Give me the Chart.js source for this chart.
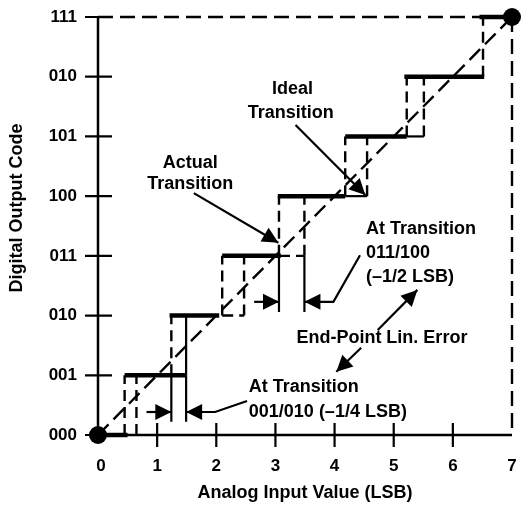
<!DOCTYPE html>
<html>
<head>
<meta charset="utf-8">
<title>End-Point Linearity Error</title>
<script src="https://cdn.jsdelivr.net/npm/chart.js@4.4.1/dist/chart.umd.min.js"></script>
<style>
  html, body { margin: 0; padding: 0; background: #fff; }
  #wrap { width: 521px; height: 507px; position: relative; }
</style>
</head>
<body>
<div id="wrap"><canvas id="chart"></canvas></div>
<script>
// ── Values ────────────────────────────────────────────────────────────────────
const inputTicks = [0, 1, 2, 3, 4, 5, 6, 7];
const codeLabels = ["000", "001", "010", "011", "100", "101", "010", "111"];

// transition k -> k+1 (LSB)
const actualTransitions = [0.45, 1.24, 2.10, 3.06, 4.18, 5.22, 6.51];
const idealTransitions  = [0.65, 1.49, 2.47, 3.49, 4.55, 5.51, 6.51];

// heavy tread of each output code
const treadStart = [0.00, 0.45, 1.21, 2.10, 3.04, 4.18, 5.18, 6.45];
const treadEnd   = [0.50, 1.49, 2.05, 3.09, 4.18, 5.22, 6.53, 7.00];

// codes whose box is closed underneath (actual -> ideal transition)
const dashedBaseCodes = [2, 3];
const solidBaseCodes  = [4, 5];

// the two measured errors: step, arrow level, extension end, arrow tail, leader
const errorMarks = [
  { step: 1, y: 0.385, ext: 0.22, tail: 0.82, leader: [[2.52, 0.57], [1.98, 0.385]] },
  { step: 3, y: 2.23,  ext: 2.06, tail: 2.64, leader: [[4.43, 3.01], [3.98, 2.23]] },
];

// callout arrows (tail, tip)
const pointers = [
  [[1.62, 4.05], [3.05, 3.22]],
  [[3.34, 5.19], [4.52, 4.02]],
  [[4.73, 1.76], [5.40, 2.43]],
  [[4.45, 1.46], [4.03, 1.06]],
];

const notes = [
  { text: "Actual",               x: 1.56, y: 4.56, align: "center" },
  { text: "Transition",           x: 1.56, y: 4.20, align: "center" },
  { text: "Ideal",                x: 3.29, y: 5.80, align: "center" },
  { text: "Transition",           x: 3.26, y: 5.39, align: "center" },
  { text: "At Transition",        x: 4.53, y: 3.45, align: "left" },
  { text: "011/100",              x: 4.53, y: 3.05, align: "left" },
  { text: "(\u20131/2 LSB)",      x: 4.53, y: 2.65, align: "left" },
  { text: "End-Point Lin. Error", x: 4.80, y: 1.62, align: "center" },
  { text: "At Transition",        x: 2.55, y: 0.80, align: "left" },
  { text: "001/010 (\u20131/4 LSB)", x: 2.55, y: 0.385, align: "left" },
];

// ── Styles ────────────────────────────────────────────────────────────────────
const FONT = '"Liberation Sans", Arial, Helvetica, sans-serif';
const base = { showLine: true, pointRadius: 0, borderColor: "#000", tension: 0, clip: false, borderCapStyle: "butt" };
const heavy    = { ...base, borderWidth: 4.5 };
const thin     = { ...base, borderWidth: 2.2 };
const dashed   = { ...base, borderWidth: 2.4, borderDash: [11, 6] };
const longDash = { ...base, borderWidth: 2.4, borderDash: [15, 7] };

function seg(points, style, extra) {
  return { data: points.map(([x, y]) => ({ x, y })), ...style, ...(extra || {}) };
}

// ── Build datasets ────────────────────────────────────────────────────────────
const datasets = [];

// ideal transfer line and full-scale frame
datasets.push(seg([[0, 0], [7, 7]], longDash));
datasets.push(seg([[0, 7], [actualTransitions[6], 7]], longDash));
datasets.push(seg([[7, 7], [7, 0]], longDash));

// treads
treadStart.forEach((s, code) => datasets.push(seg([[s, code], [treadEnd[code], code]], heavy)));

// risers
actualTransitions.forEach((x, k) => datasets.push(seg([[x, k], [x, k + 1]], dashed)));
idealTransitions.forEach((x, k) => {
  if (k === 6) return;
  datasets.push(seg([[x, k], [x, k + 1]], k === 1 ? thin : dashed));
});

// box bottoms
dashedBaseCodes.forEach(c => datasets.push(seg([[actualTransitions[c], c], [idealTransitions[c], c]], dashed)));
solidBaseCodes.forEach(c => datasets.push(seg([[actualTransitions[c], c], [idealTransitions[c], c]], thin)));

// error dimensions
errorMarks.forEach(m => {
  const a = actualTransitions[m.step], b = idealTransitions[m.step];
  datasets.push(seg([[a, m.step], [a, m.ext]], thin));
  datasets.push(seg([[b, m.step], [b, m.ext]], thin));
  datasets.push(seg([[m.tail, m.y], [a, m.y]], thin, { arrowHead: true }));
  datasets.push(seg([...m.leader, [b, m.y]], thin, { arrowHead: true }));
});

// callouts
pointers.forEach(p => datasets.push(seg(p, thin, { arrowHead: true })));

// end points
datasets.push({
  data: [{ x: 0, y: 0 }, { x: 7, y: 7 }],
  showLine: false, pointRadius: 9, pointBackgroundColor: "#000", pointBorderWidth: 0, clip: false,
});

// ── Plugins ───────────────────────────────────────────────────────────────────
const axesPlugin = {
  id: "axes",
  beforeDatasetsDraw(chart) {
    const { ctx, scales: { x, y } } = chart;
    const x0 = x.getPixelForValue(0), y0 = y.getPixelForValue(0);
    ctx.save();
    ctx.strokeStyle = "#000";
    ctx.lineWidth = 2.5;
    ctx.beginPath();
    ctx.moveTo(x0, y.getPixelForValue(7));
    ctx.lineTo(x0, y0);
    ctx.lineTo(x.getPixelForValue(7), y0);
    ctx.stroke();

    ctx.lineWidth = 2.2;
    ctx.beginPath();
    codeLabels.forEach((_, c) => {
      const py = y.getPixelForValue(c);
      ctx.moveTo(x0 - 13, py);
      ctx.lineTo(c === 0 || c === 7 ? x0 : x0 + 14, py);
    });
    inputTicks.forEach(v => {
      if (v === 0 || v === 7) return;
      const px = x.getPixelForValue(v);
      ctx.moveTo(px, y0 - 12);
      ctx.lineTo(px, y0 + 12);
    });
    ctx.stroke();

    ctx.fillStyle = "#000";
    ctx.font = "bold 17px " + FONT;
    ctx.textAlign = "right";
    ctx.textBaseline = "middle";
    codeLabels.forEach((t, c) => ctx.fillText(t, x0 - 21, y.getPixelForValue(c)));
    ctx.textAlign = "center";
    inputTicks.forEach(v => ctx.fillText(String(v), x.getPixelForValue(v) + (v === 0 ? 3 : 0), y0 + 31));

    ctx.font = "bold 18px " + FONT;
    ctx.fillText("Analog Input Value (LSB)", (x.left + x.right) / 2, y0 + 58);
    ctx.save();
    ctx.translate(17, 208);
    ctx.rotate(-Math.PI / 2);
    ctx.fillText("Digital Output Code", 0, 0);
    ctx.restore();
    ctx.restore();
  },
  afterDatasetsDraw(chart) {
    const { ctx, scales: { x, y } } = chart;
    ctx.save();
    ctx.fillStyle = "#000";

    // arrow heads on flagged datasets
    chart.data.datasets.forEach((ds, i) => {
      if (!ds.arrowHead) return;
      const pts = chart.getDatasetMeta(i).data;
      const tip = pts[pts.length - 1], prev = pts[pts.length - 2];
      const ang = Math.atan2(tip.y - prev.y, tip.x - prev.x);
      const len = 16, half = 8;
      ctx.save();
      ctx.translate(tip.x, tip.y);
      ctx.rotate(ang);
      ctx.beginPath();
      ctx.moveTo(0, 0);
      ctx.lineTo(-len, -half);
      ctx.lineTo(-len, half);
      ctx.closePath();
      ctx.fill();
      ctx.restore();
    });

    ctx.font = "bold 18px " + FONT;
    ctx.textBaseline = "middle";
    notes.forEach(n => {
      ctx.textAlign = n.align;
      ctx.fillText(n.text, x.getPixelForValue(n.x), y.getPixelForValue(n.y));
    });
    ctx.restore();
  },
};

// ── Chart ─────────────────────────────────────────────────────────────────────
new Chart(document.getElementById("chart"), {
  type: "scatter",
  data: { datasets },
  options: {
    responsive: true,
    maintainAspectRatio: false,
    animation: false,
    layout: { padding: { left: 98, right: 6, top: 17, bottom: 72 } },
    plugins: { legend: { display: false }, tooltip: { enabled: false } },
    scales: {
      x: { type: "linear", min: 0, max: 7, display: false },
      y: { type: "linear", min: 0, max: 7, display: false },
    },
  },
  plugins: [axesPlugin],
});
</script>
</body>
</html>
